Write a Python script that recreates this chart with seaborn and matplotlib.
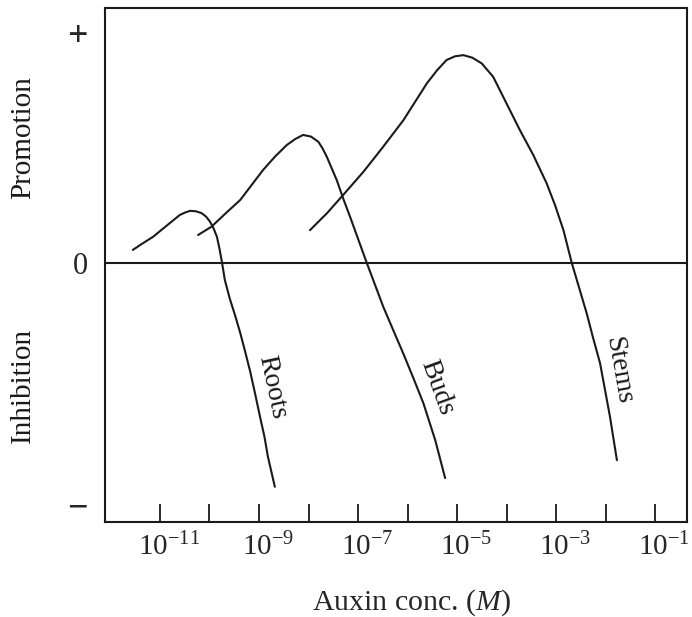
import numpy as np
import pandas as pd
import matplotlib
matplotlib.use("Agg")
import matplotlib.pyplot as plt
import matplotlib.transforms as mtransforms
import seaborn as sns

# ---- data (log10 of auxin concentration in M, relative response) ----
roots_logc = [-11.55, -11.34, -11.14, -10.96, -10.80, -10.60, -10.49, -10.39, -10.27,
              -10.16, -10.07, -9.99, -9.92, -9.85, -9.80, -9.75, -9.69, -9.59, -9.48,
              -9.38, -9.28, -9.18, -9.08, -8.98, -8.89, -8.82, -8.68]
roots_resp = [0.057, 0.087, 0.114, 0.146, 0.174, 0.209, 0.220, 0.227, 0.225,
              0.217, 0.202, 0.180, 0.152, 0.114, 0.064, 0.006, -0.074, -0.155, -0.230,
              -0.303, -0.385, -0.470, -0.567, -0.668, -0.755, -0.842, -0.973]

buds_logc = [-10.23, -9.96, -9.69, -9.38, -9.15, -8.92, -8.68, -8.44, -8.27, -8.11,
             -7.95, -7.80, -7.72, -7.63, -7.43, -7.30, -7.16, -6.99, -6.82, -6.49,
             -6.29, -6.09, -5.88, -5.68, -5.44, -5.24]
buds_resp = [0.122, 0.158, 0.213, 0.274, 0.339, 0.404, 0.462, 0.513, 0.539, 0.557,
             0.550, 0.527, 0.500, 0.462, 0.361, 0.281, 0.201, 0.100, -0.001, -0.190,
             -0.291, -0.391, -0.501, -0.609, -0.770, -0.935]

stems_logc = [-7.97, -7.63, -7.30, -6.89, -6.49, -6.08, -5.61, -5.40, -5.21, -5.04,
              -4.87, -4.69, -4.50, -4.27, -4.00, -3.73, -3.46, -3.19, -3.02, -2.85,
              -2.68, -2.52, -2.38, -2.25, -2.11, -1.91, -1.77]
stems_resp = [0.143, 0.216, 0.296, 0.397, 0.506, 0.622, 0.781, 0.839, 0.883, 0.899,
              0.904, 0.893, 0.868, 0.810, 0.694, 0.578, 0.470, 0.347, 0.252, 0.143,
              -0.001, -0.117, -0.219, -0.326, -0.436, -0.668, -0.857]

organs = ["Roots", "Buds", "Stems"]
label_logc = [-8.74, -5.40, -1.73]
label_resp = [-0.54, -0.54, -0.465]
label_rot = [-78, -70, -80]

xtick_exps = [-11, -10, -9, -8, -7, -6, -5, -4, -3, -2, -1]
xlabel_exps = [-11, -9, -7, -5, -3, -1]
ytick_vals = [1.0, 0.0, -1.05]
ytick_labels = ["+", "0", "\u2212"]

# ---- build long table ----
frames = []
for name, lc, rp in [("Roots", roots_logc, roots_resp),
                     ("Buds", buds_logc, buds_resp),
                     ("Stems", stems_logc, stems_resp)]:
    frames.append(pd.DataFrame({"organ": name,
                                "conc": np.power(10.0, lc),
                                "resp": rp}))
df = pd.concat(frames, ignore_index=True)

sns.set_style("white")
plt.rcParams["font.family"] = ["Liberation Serif", "DejaVu Serif"]
plt.rcParams["mathtext.fontset"] = "custom"
plt.rcParams["mathtext.rm"] = "Liberation Serif"
plt.rcParams["mathtext.it"] = "Liberation Serif:italic"

fig = plt.figure(figsize=(6.92, 6.17), dpi=100)
ax = fig.add_axes([105 / 692, 1 - 522 / 617, 582 / 692, 514 / 617])

ink = "#1a1a1a"
for name in organs:
    sub = df[df["organ"] == name]
    sns.lineplot(data=sub, x="conc", y="resp", sort=False, estimator=None,
                 color=ink, linewidth=1.5, ax=ax, legend=False)

ax.axhline(0, color=ink, linewidth=1.5)

ax.set_xscale("log")
ax.set_xlim(10 ** -12.111, 10 ** -0.354)
ax.set_ylim(-1.126, 1.109)

ax.set_xticks([10.0 ** e for e in xtick_exps])
ax.set_xticklabels([("$10^{-%d}$" % -e) if e in xlabel_exps else "" for e in xtick_exps])
ax.xaxis.set_minor_locator(matplotlib.ticker.NullLocator())
ax.tick_params(axis="x", direction="in", length=13, width=1.3, color=ink,
               labelsize=21, pad=8, bottom=True)
offset = mtransforms.ScaledTranslation(9 / 100, 0, fig.dpi_scale_trans)
for lab in ax.get_xticklabels():
    lab.set_transform(lab.get_transform() + offset)

ax.set_yticks(ytick_vals)
ax.set_yticklabels(ytick_labels)
ax.tick_params(axis="y", length=0, labelsize=26, pad=12.5, left=True)
for lab, txt in zip(ax.get_yticklabels(), ytick_labels):
    if txt == "0":
        lab.set_fontsize(22)
    else:
        lab.set_fontweight("bold")

for s in ax.spines.values():
    s.set_visible(True)
    s.set_color(ink)
    s.set_linewidth(1.5)

ax.set_xlabel("Auxin conc. ($\\mathit{M}$)", fontsize=21.5)
ax.xaxis.set_label_coords(0.527, -0.127)
ax.set_ylabel("")

fig.text(23 / 692, 1 - 138 / 617, "Promotion", rotation=90, ha="center", va="center",
         fontsize=21, color=ink)
fig.text(23 / 692, 1 - 385 / 617, "Inhibition", rotation=90, ha="center", va="center",
         fontsize=21, color=ink)

for name, lx, ly, rot in zip(organs, label_logc, label_resp, label_rot):
    ax.text(10 ** lx, ly, name, rotation=rot, ha="center", va="center",
            fontsize=20, color=ink, rotation_mode="anchor")

fig.savefig("out.png", dpi=100)
